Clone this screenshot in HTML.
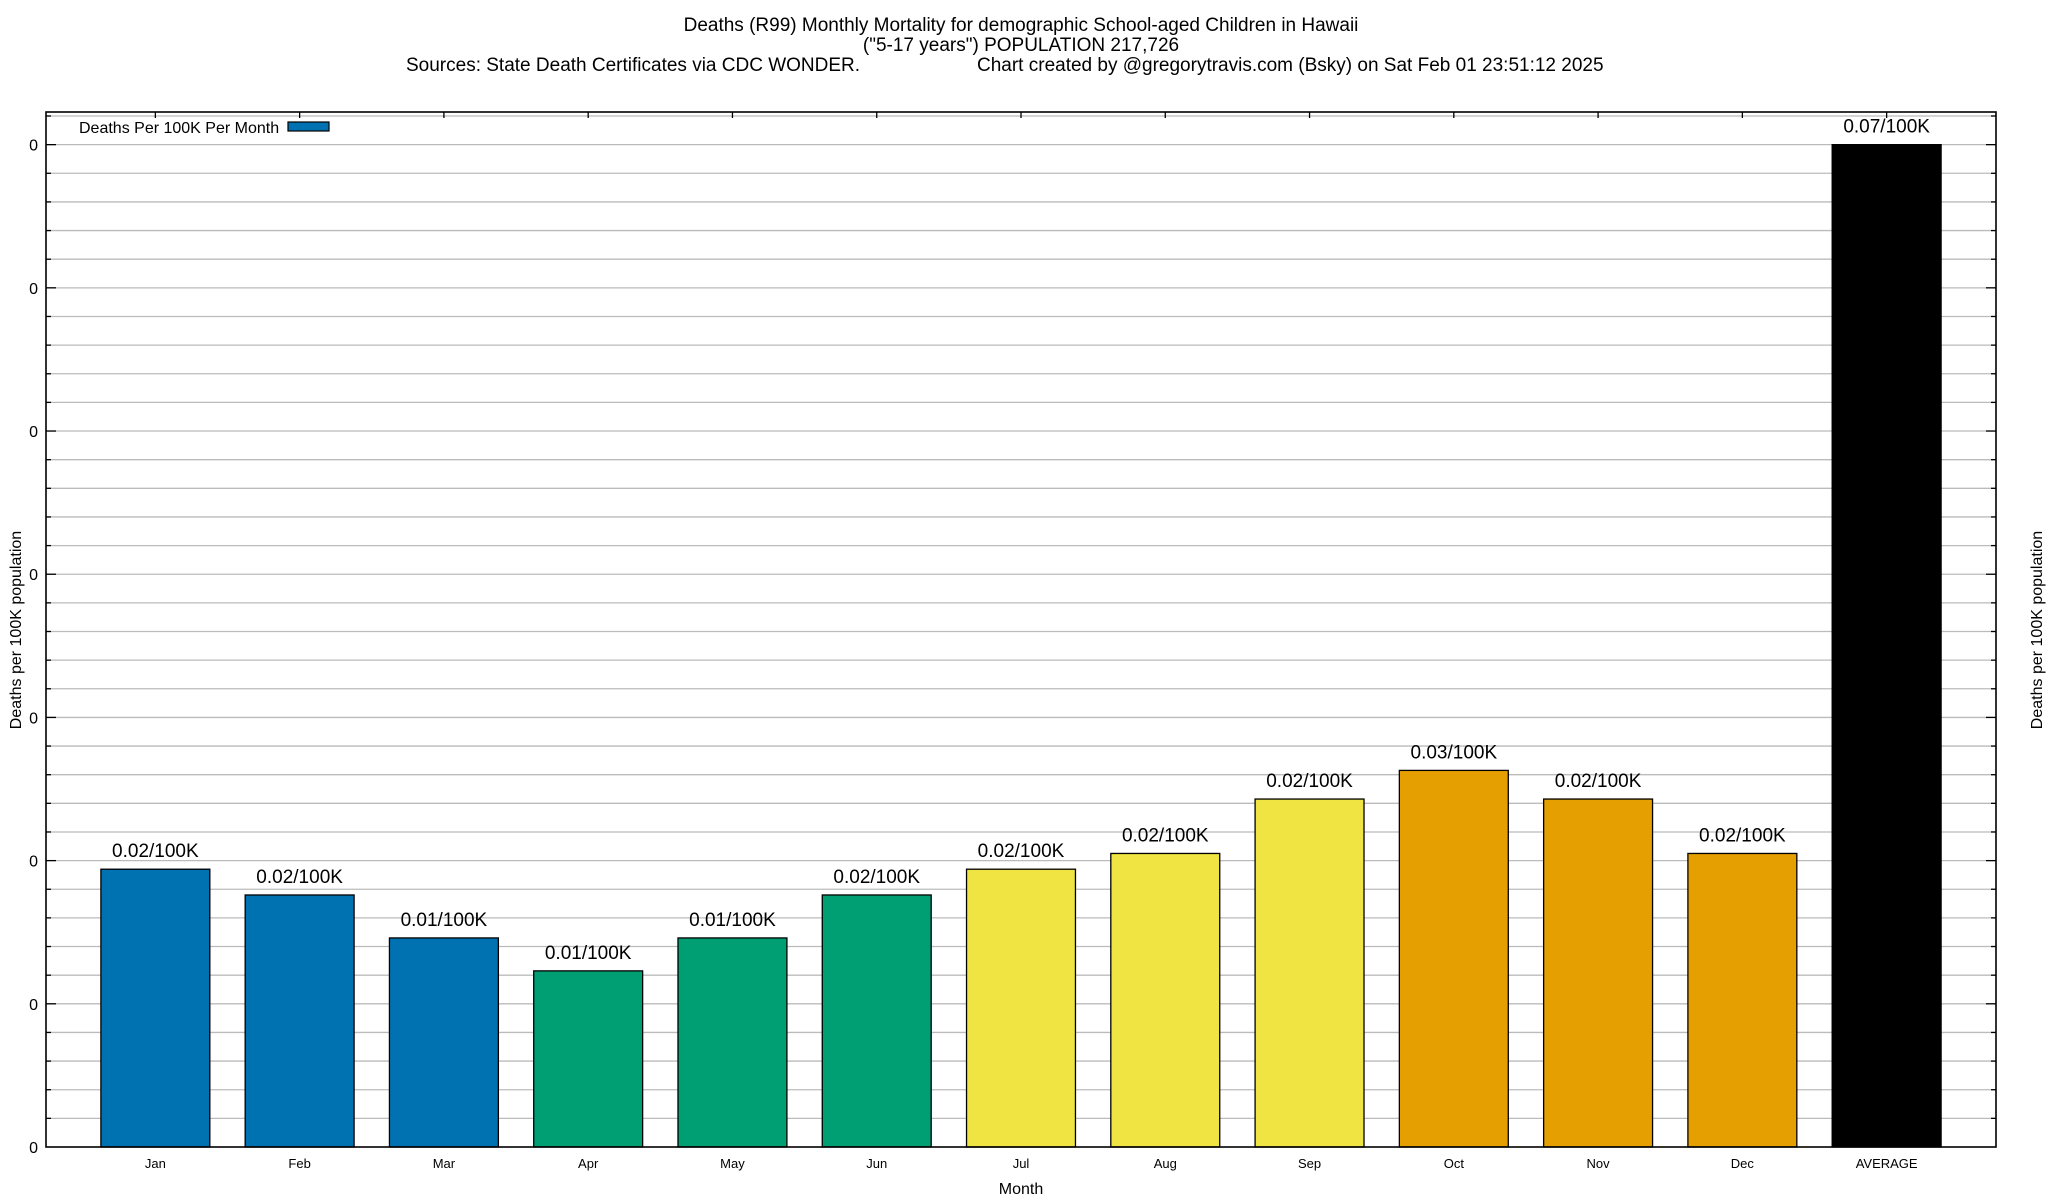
<!DOCTYPE html>
<html><head><meta charset="utf-8"><style>
html,body{margin:0;padding:0;background:#fff;}
svg{display:block;font-family:"Liberation Sans",Arial,sans-serif;}
</style></head><body>
<svg id="chart" width="2048" height="1200" viewBox="0 0 2048 1200" xmlns="http://www.w3.org/2000/svg">
<rect width="2048" height="1200" fill="#fff"/>
<text x="1021" y="31" text-anchor="middle" font-size="19">Deaths (R99) Monthly Mortality for demographic School-aged Children in Hawaii</text>
<text x="1021" y="51" text-anchor="middle" font-size="19">("5-17 years") POPULATION 217,726</text>
<text x="406" y="71" font-size="19">Sources: State Death Certificates via CDC WONDER.</text>
<text x="977" y="71" font-size="19">Chart created by @gregorytravis.com (Bsky) on Sat Feb 01 23:51:12 2025</text>
<g id="grid"></g>
<g id="bars"></g>
<g id="axes"></g>
<text x="1021" y="1194" text-anchor="middle" font-size="16">Month</text>
<text transform="translate(21,630) rotate(-90)" text-anchor="middle" font-size="16">Deaths per 100K population</text>
<text transform="translate(2042,630) rotate(-90)" text-anchor="middle" font-size="16">Deaths per 100K population</text>
<g>
<text x="79" y="133" font-size="16">Deaths Per 100K Per Month</text>
<rect x="288" y="122" width="41" height="9" fill="#0072b2" stroke="#000" stroke-width="1.2"/>
</g>
</svg>
<script>
const categories = ["Jan","Feb","Mar","Apr","May","Jun","Jul","Aug","Sep","Oct","Nov","Dec","AVERAGE"];
const values = [0.0194,0.0176,0.0146,0.0123,0.0146,0.0176,0.0194,0.0205,0.0243,0.0263,0.0243,0.0205,0.07];
const valueLabels = ["0.02/100K","0.02/100K","0.01/100K","0.01/100K","0.01/100K","0.02/100K","0.02/100K","0.02/100K","0.02/100K","0.03/100K","0.02/100K","0.02/100K","0.07/100K"];
const colors = ["#0072b2","#0072b2","#0072b2","#009e73","#009e73","#009e73","#f0e442","#f0e442","#f0e442","#e69f00","#e69f00","#e69f00","#000000"];
const yTicks = [0,0.01,0.02,0.03,0.04,0.05,0.06,0.07];
const yTickLabels = ["0","0","0","0","0","0","0","0"];

const NS="http://www.w3.org/2000/svg";
const L=46,R=1996,T=112,B=1147;
const xMin=-0.758,xMax=12.758,yMax=0.07228;
const x=i=>L+(i-xMin)/(xMax-xMin)*(R-L);
const y=v=>B-v/yMax*(B-T);
const step=x(1)-x(0), bw=step*0.755;
function mk(tag,attrs,parent){const e=document.createElementNS(NS,tag);for(const k in attrs)e.setAttribute(k,attrs[k]);parent.appendChild(e);return e;}
const grid=document.getElementById('grid'),bars=document.getElementById('bars'),axes=document.getElementById('axes');
// minor gridlines every 0.002
for(let k=1;k*0.002<yMax;k++){
  const yy=y(k*0.002);
  const g=mk('line',{x1:L,x2:R,y1:yy,y2:yy,stroke:'#bbb','stroke-width':1.3},grid);
  
  
  const major=(k%5===0);
  const tl=mk('line',{x1:L,x2:L+(major?10:5),y1:yy,y2:yy,stroke:'#000','stroke-width':1.3},axes);
  
  
  const tr=mk('line',{x1:R,x2:R-(major?10:5),y1:yy,y2:yy,stroke:'#000','stroke-width':1.3},axes);
  
  
}
yTicks.forEach((v,i)=>{
  const t=mk('text',{x:38,y:y(v)+6,'text-anchor':'end','font-size':16},axes);
  t.textContent=yTickLabels[i];
  
  
});
categories.forEach((c,i)=>{
  const cx=x(i);
  const top=Math.max(y(values[i]),T);
  const r=mk('rect',{x:cx-bw/2,y:top,width:bw,height:B-top,fill:colors[i],stroke:'#000','stroke-width':1.3},bars);
  
  
  const lt=mk('text',{x:cx,y:(y(values[i])<T?T-12:y(values[i])-12),'text-anchor':'middle','font-size':19},bars);
  lt.textContent=valueLabels[i];
  
  
  const xt=mk('text',{x:cx,y:1168,'text-anchor':'middle','font-size':13},axes);
  xt.textContent=c;
  
  
  const tk=mk('line',{x1:cx,x2:cx,y1:T,y2:T+6,stroke:'#000','stroke-width':1.3},axes);
  
  
});
const fr=mk('rect',{x:L,y:T,width:R-L,height:B-T,fill:'none',stroke:'#000','stroke-width':1.6},axes);


</script>
</body></html>
